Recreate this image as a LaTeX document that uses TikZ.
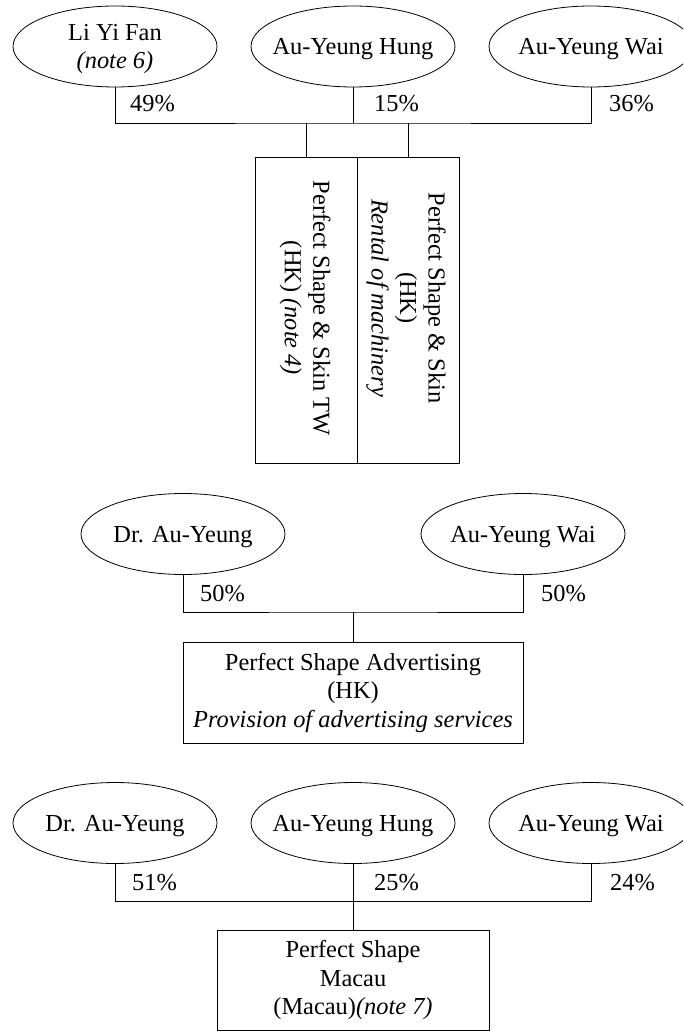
\documentclass[tikz,border=0pt]{standalone}
\usepackage{fontspec}
\setmainfont{Liberation Serif}
\usetikzlibrary{shapes.geometric}
\begin{document}
\begin{tikzpicture}[x=1pt,y=-1pt,
  every node/.style={font=\fontsize{24.4}{28.5}\selectfont, text=black},
  own/.style={draw, ellipse, line width=0.8pt, minimum width=204pt, minimum height=81pt,
              inner xsep=-30pt, inner ysep=0pt, align=center, text depth=0pt},
  boxn/.style={draw, rectangle, line width=0.8pt, inner sep=0pt, align=center},
  pct/.style={anchor=base west, inner sep=0pt},
  conn/.style={line width=0.8pt}]
\useasboundingbox (0,0) rectangle (683,1032);
\clip (0,0) rectangle (683,1032);

% ---------- Section 1 ----------
\node[own] (e1) at (115,46.5) {Li Yi Fan\\\textit{(note 6)}};
\node[own] (e2) at (353,46.5) {Au-Yeung Hung};
\node[own] (e3) at (591,46.5) {Au-Yeung Wai};
\coordinate (j1) at (353,123);
\draw[conn] (e1.south) |- (j1) -| (e3.south);
\draw[conn] (e2.south) -- (j1);
\node[pct] (p1) at (130,112) {49\%};
\node[pct] (p2) at (374,112) {15\%};
\node[pct] (p3) at (609,112) {36\%};

\node[boxn, minimum width=102pt, minimum height=306pt] (b1a) at (306,310) {};
\node[boxn, minimum width=102pt, minimum height=306pt] (b1b) at (408,310) {};
\draw[conn] (b1a.north) -- (b1a.north |- j1);
\draw[conn] (b1b.north) -- (b1b.north |- j1);
\node[rotate=-90, align=center] (t1a) at (305,308) {Perfect Shape \& Skin TW\\(HK) \textit{(note 4)}};
\node[rotate=-90, align=center] (t1b) at (406,298) {Perfect Shape \& Skin\\(HK)\\\textit{Rental of machinery}};

% ---------- Section 2 ----------
\node[own] (e4) at (183,534) {Dr. Au-Yeung};
\node[own] (e5) at (523,534) {Au-Yeung Wai};
\coordinate (j2) at (353,612);
\draw[conn] (e4.south) |- (j2) -| (e5.south);
\node[pct] (p4) at (200,601) {50\%};
\node[pct] (p5) at (541,601) {50\%};
\node[boxn, minimum width=340pt, minimum height=101pt] (b2) at (353,692.5)
  {Perfect Shape Advertising\\(HK)\\\textit{Provision of advertising services}};
\draw[conn] (j2) -- (b2.north);

% ---------- Section 3 ----------
\node[own] (e6) at (115,823) {Dr. Au-Yeung};
\node[own] (e7) at (353,823) {Au-Yeung Hung};
\node[own] (e8) at (591,823) {Au-Yeung Wai};
\coordinate (j3) at (353,901);
\draw[conn] (e6.south) |- (j3) -| (e8.south);
\draw[conn] (e7.south) -- (j3);
\node[pct] (p6) at (132,890) {51\%};
\node[pct] (p7) at (374,890) {25\%};
\node[pct] (p8) at (610,890) {24\%};
\node[boxn, minimum width=272pt, minimum height=100pt] (b3) at (353,980)
  {Perfect Shape\\Macau\\(Macau)\textit{(note 7)}};
\draw[conn] (j3) -- (b3.north);
\end{tikzpicture}
\end{document}
